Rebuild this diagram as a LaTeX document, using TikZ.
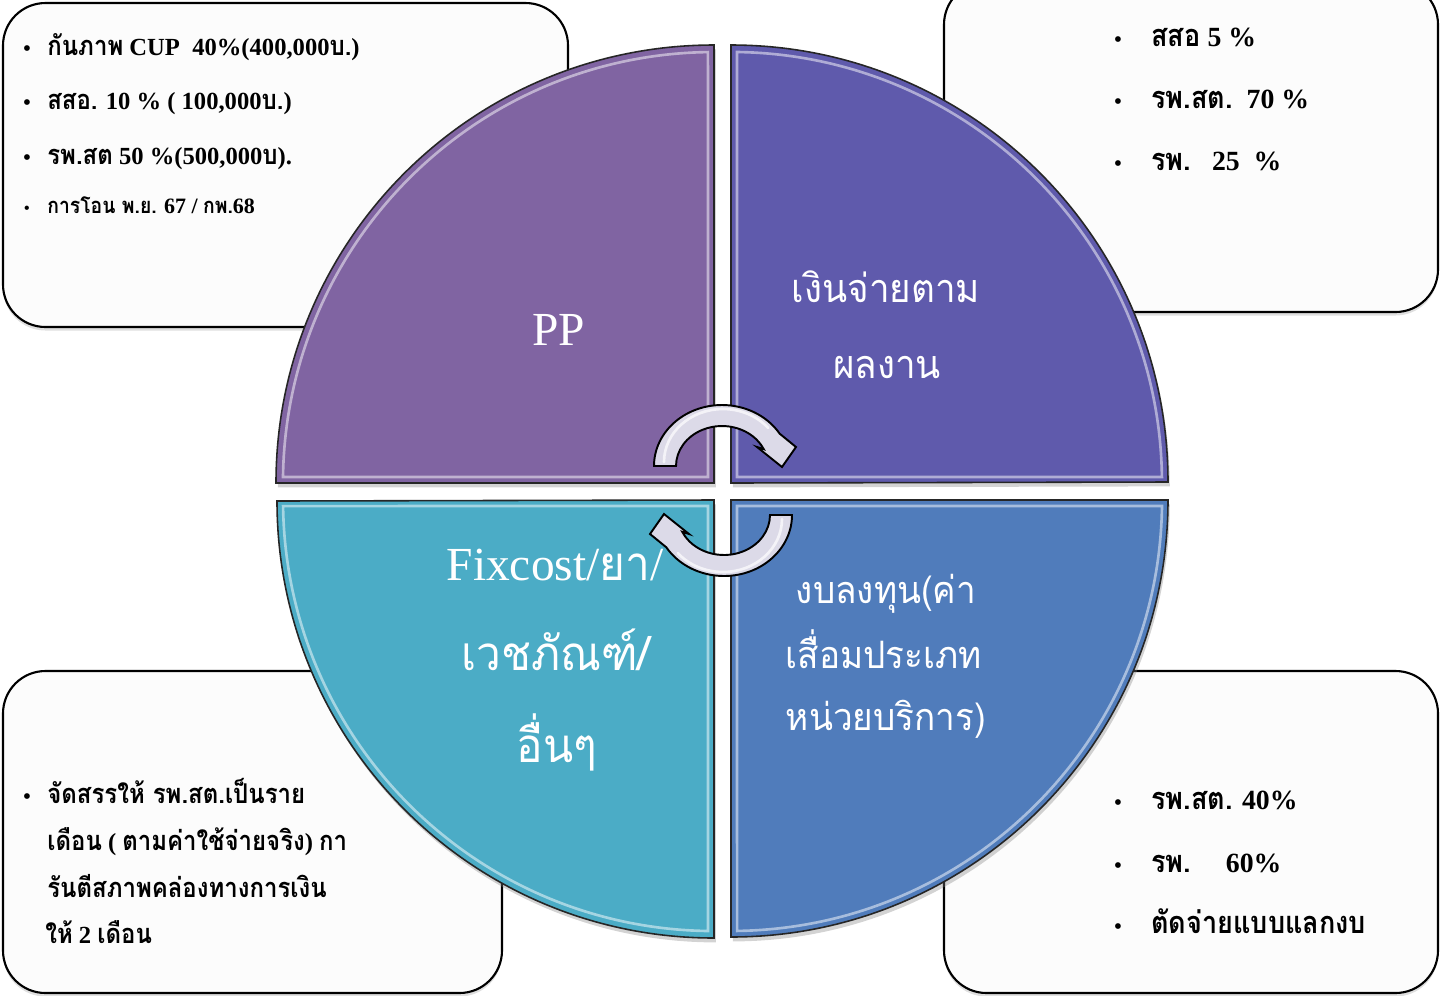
\documentclass[tikz,border=0pt]{standalone}
\usepackage{fontspec}
\setmainfont{Liberation Serif}
\newfontfamily\thaifont[Script=Thai,FakeStretch=0.93]{Loma}
\newfontfamily\thaibox[Script=Thai,FakeStretch=0.88]{Loma}
\usetikzlibrary{shadows}
\newcommand{\thx}[1]{{\thaibox\fontsize{15.5}{17}\selectfont #1}}
\newcommand{\thxl}[1]{{\thaibox\fontsize{17.5}{19}\selectfont #1}}
\definecolor{cPP}{RGB}{128,100,162}
\definecolor{cTR}{RGB}{95,90,172}
\definecolor{cBL}{RGB}{75,172,198}
\definecolor{cBR}{RGB}{80,124,187}
\definecolor{arrowfill}{RGB}{220,218,232}
\definecolor{boxfill}{RGB}{252,252,252}
\begin{document}
\begin{tikzpicture}[x=0.02cm,y=-0.02cm,
  boxstyle/.style={draw=black, line width=1.2pt, rounded corners=0.85cm, fill=boxfill,
    drop shadow={shadow xshift=0pt, shadow yshift=-2pt, opacity=0.25}},
  quad/.style={draw=black!85, line width=0.9pt,
    drop shadow={shadow xshift=1pt, shadow yshift=-2.5pt, opacity=0.35}},
  hl/.style={draw=white, opacity=0.5, line width=1.5pt},
  arrowshape/.style={fill=arrowfill, draw=black, line width=1.1pt, line join=miter},
  bt/.style={anchor=base west, inner sep=0pt, font=\bfseries\fontsize{14}{16}\selectfont},
  btl/.style={anchor=base west, inner sep=0pt, font=\bfseries\fontsize{15.8}{18}\selectfont},
  bts/.style={anchor=base west, inner sep=0pt, font=\bfseries\fontsize{12.5}{14}\selectfont},
  bul/.style={anchor=base, inner sep=0pt, font=\bfseries\fontsize{12}{14}\selectfont},
  wl/.style={anchor=base, inner sep=0pt, text=white}]
\useasboundingbox (0,0) rectangle (1441,995);

% boxes
\path[boxstyle] (3,3) rectangle (568,327);
\path[boxstyle] (944,-18) rectangle (1438,312);
\path[boxstyle] (3,671) rectangle (502,993);
\path[boxstyle] (944,671) rectangle (1438,993);

% quadrants
\path[quad, fill=cPP] (714,483) -- (276,483) arc[start angle=180, end angle=270, radius=438] -- cycle;
\path[quad, fill=cTR] (731,483) -- (731,45) arc[start angle=270, end angle=360, radius=437] -- cycle;
\path[quad, fill=cBR] (731,500) -- (1168,500) arc[start angle=0, end angle=90, radius=437] -- cycle;
\path[quad, fill=cBL] (714,500) -- (714,938) arc[start angle=90, end angle=180, radius=437] -- cycle;
\draw[hl] (708,477) -- (283,477) arc[start angle=180.8, end angle=269.2, radius=431] -- cycle;
\draw[hl] (737,477) -- (737,52) arc[start angle=270.8, end angle=359.2, radius=431] -- cycle;
\draw[hl] (737,506) -- (1162,506) arc[start angle=0.8, end angle=89.2, radius=431] -- cycle;
\draw[hl] (708,506) -- (708,931) arc[start angle=90.8, end angle=179.2, radius=431] -- cycle;

% circular arrows
\path[arrowshape] (654,466) arc[start angle=180, end angle=328, x radius=68, y radius=61]
  -- (796,447) -- (782,467) -- (757,447) -- (763.7,449.1)
  arc[start angle=335, end angle=180, x radius=46, y radius=40] -- cycle;
\draw[white, opacity=0.7, line width=1.5pt, line cap=round] (664,462) arc[start angle=180, end angle=320, x radius=59, y radius=53];
\begin{scope}[rotate around={180:(723,490.5)}]
\path[arrowshape] (654,466) arc[start angle=180, end angle=328, x radius=68, y radius=61]
  -- (796,447) -- (782,467) -- (757,447) -- (763.7,449.1)
  arc[start angle=335, end angle=180, x radius=46, y radius=40] -- cycle;
\draw[white, opacity=0.7, line width=1.5pt, line cap=round] (664,462) arc[start angle=180, end angle=320, x radius=59, y radius=53];
\end{scope}

% quadrant labels
\node[wl, font=\fontsize{27}{30}\selectfont] (pp) at (559,345) {PP};
\node[wl, font=\thaifont\fontsize{22.5}{24}\selectfont] (tr1) at (886,302) {เงินจ่ายตาม};
\node[wl, font=\thaifont\fontsize{22.5}{24}\selectfont] (tr2) at (887,378) {ผลงาน};
\node[wl, font=\fontsize{27}{30}\selectfont] (bl1) at (555,580) {Fixcost/{\thaifont\fontsize{27}{28}\selectfont ยา}/};
\node[wl, font=\thaifont\fontsize{27}{28}\selectfont] (bl2) at (556,670) {เวชภัณฑ์/};
\node[wl, font=\thaifont\fontsize{27}{28}\selectfont] (bl3) at (557,762) {อื่นๆ};
\node[wl, font=\thaifont\fontsize{21.5}{24}\selectfont] (br1) at (886,603) {งบลงทุน(ค่า};
\node[wl, font=\thaifont\fontsize{21.5}{24}\selectfont] (br2) at (884,668) {เสื่อมประเภท};
\node[wl, font=\thaifont\fontsize{21.5}{24}\selectfont] (br3) at (886,730) {หน่วยบริการ)};

% top-left box text
\node[bul] (b11) at (27,55) {•};
\node[bt] (t11) at (47,55) {\thx{กันภาพ} CUP\ \ 40\%(400,000\thx{บ.})};
\node[bul] (b12) at (27,109) {•};
\node[bt] (t12) at (47,109) {\thx{สสอ.} 10 \% ( 100,000\thx{บ.})};
\node[bul] (b13) at (27,164) {•};
\node[bt] (t13) at (47,164) {\thx{รพ.สต} 50 \%(500,000\thx{บ}).};
\node[bul, font=\bfseries\fontsize{9}{11}\selectfont] (b14) at (27,213) {•};
\node[bts] (t14) at (47,213) {{\thaibox การโอน พ.ย.} 67 / {\thaibox กพ.}68};

% top-right box text
\node[bul] (b21) at (1118,46) {•};
\node[btl] (t21) at (1151,46) {\thxl{สสอ} 5 \%};
\node[bul] (b22) at (1118,108) {•};
\node[btl] (t22) at (1151,108) {\thxl{รพ.สต.}\ \ 70 \%};
\node[bul] (b23) at (1118,170) {•};
\node[btl] (t23) at (1151,170) {\thxl{รพ.}\ \ \ 25\ \ \%};

% bottom-left box text
\node[bul] (b31) at (27,803) {•};
\node[bt] (t31) at (47,803) {\thx{จัดสรรให้ รพ.สต.เป็นราย}};
\node[bt] (t32) at (47,850) {\thx{เดือน} ( \thx{ตามค่าใช้จ่ายจริง}) \thx{กา}};
\node[bt] (t33) at (47,897) {\thx{รันตีสภาพคล่องทางการเงิน}};
\node[bt] (t34) at (45,943) {\thx{ให้} 2 \thx{เดือน}};

% bottom-right box text
\node[bul] (b41) at (1118,809) {•};
\node[btl] (t41) at (1151,809) {\thxl{รพ.สต.} 40\%};
\node[bul] (b42) at (1118,872) {•};
\node[btl] (t42) at (1151,872) {\thxl{รพ.}\quad\ 60\%};
\node[bul] (b43) at (1118,933) {•};
\node[btl] (t43) at (1151,933) {\thxl{ตัดจ่ายแบบแลกงบ}};
\end{tikzpicture}
\end{document}
